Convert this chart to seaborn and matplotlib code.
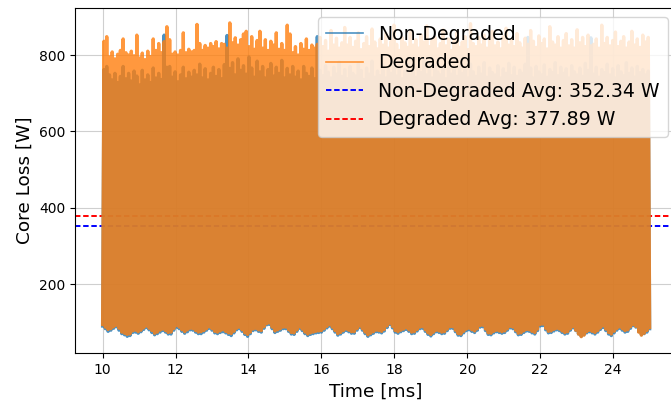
import numpy as np
import matplotlib
matplotlib.use("Agg")
import matplotlib.pyplot as plt
import seaborn as sns

# Time window of the core-loss trace [ms]
t_start, t_end = 10.0, 25.0

# Local minima of the switching ripple (one per switching period + closing point) [W]
nd_troughs = [
    91, 84, 77, 80, 85, 89, 80, 71, 68, 64,
    66, 74, 75, 72, 76, 82, 87, 81, 74, 68,
    71, 75, 79, 75, 70, 70, 80, 88, 84, 77,
    72, 76, 81, 80, 75, 71, 71, 75, 80, 85,
    80, 73, 71, 74, 76, 73, 69, 66, 73, 81,
    84, 77, 69, 64, 71, 79, 81, 77, 75, 85,
    94, 95, 84, 74, 77, 80, 84, 84, 77, 70,
    69, 77, 85, 79, 71, 66, 69, 71, 73, 74,
    75, 80, 86, 91, 84, 75, 67, 70, 75, 79,
    76, 72, 72, 80, 87, 80, 71, 64, 68, 72,
    76, 75, 73, 78, 87, 95, 86, 75, 72, 76,
    79, 82, 77, 71, 72, 78, 84, 85, 77, 69,
    65, 71, 76, 74, 71, 72, 79, 85, 85, 76,
    67, 66, 73, 79, 81, 77, 74, 80, 88, 89,
    79, 69, 68, 73, 76, 74, 72, 74, 80, 86,
    84, 76, 68, 69, 74, 78, 77, 73, 70, 79,
    91, 92, 81, 73, 74, 78, 81, 79, 74, 70,
    72, 80, 86, 79, 70, 64, 68, 73, 76, 73,
    70, 75, 82, 87, 79, 70, 66, 73, 80, 85,
    80, 75, 77, 85, 92, 88, 76, 68, 71, 75,
    84,
]
d_troughs = [
    95, 88, 82, 84, 89, 93, 85, 75, 72, 69,
    70, 78, 80, 76, 80, 86, 91, 85, 79, 72,
    75, 80, 83, 79, 74, 75, 84, 92, 88, 81,
    76, 81, 85, 84, 79, 75, 76, 79, 84, 89,
    84, 77, 75, 78, 81, 77, 73, 71, 77, 85,
    88, 81, 73, 69, 75, 83, 85, 81, 79, 89,
    97, 99, 88, 78, 81, 84, 88, 88, 81, 74,
    73, 81, 89, 83, 75, 70, 73, 75, 77, 78,
    79, 84, 90, 95, 88, 79, 71, 74, 79, 83,
    80, 76, 76, 84, 91, 84, 75, 68, 72, 76,
    80, 79, 77, 82, 91, 98, 90, 79, 76, 80,
    83, 86, 81, 75, 76, 82, 88, 89, 81, 73,
    69, 75, 80, 78, 75, 76, 83, 89, 89, 80,
    71, 70, 77, 83, 85, 81, 78, 84, 92, 93,
    83, 73, 72, 77, 80, 78, 76, 78, 84, 90,
    88, 80, 72, 73, 78, 82, 81, 77, 74, 83,
    95, 96, 85, 77, 78, 82, 85, 83, 78, 74,
    76, 84, 89, 80, 70, 63, 67, 76, 80, 77,
    74, 79, 86, 91, 83, 74, 70, 77, 84, 89,
    84, 79, 81, 89, 95, 90, 75, 67, 72, 79,
    87,
]

# Local maxima of the switching ripple (one per switching period) [W]
nd_peaks = [
    762, 770, 748, 735, 752, 728, 744, 770, 738, 752,
    732, 758, 745, 722, 760, 735, 748, 728, 766, 740,
    752, 736, 852, 768, 770, 742, 756, 730, 748, 768,
    738, 755, 742, 760, 748, 776, 740, 764, 735, 752,
    768, 744, 762, 738, 775, 851, 765, 780, 748, 790,
    760, 772, 750, 795, 766, 742, 784, 756, 770, 740,
    762, 778, 745, 768, 752, 786, 740, 765, 748, 770,
    742, 758, 735, 770, 752, 744, 766, 738, 848, 760,
    746, 772, 755, 740, 768, 750, 782, 744, 762, 738,
    770, 752, 745, 778, 760, 736, 766, 750, 784, 742,
    758, 746, 774, 740, 762, 752, 780, 745, 768, 738,
    760, 776, 748, 764, 742, 770, 754, 786, 748, 762,
    740, 772, 756, 748, 768, 738, 782, 750, 764, 744,
    770, 752, 762, 740, 776, 756, 744, 768, 750, 780,
    742, 766, 754, 748, 772, 740, 764, 752, 778, 746,
    768, 744, 760, 752, 776, 846, 766, 740, 770, 756,
    748, 774, 742, 762, 754, 780, 746, 768, 752, 764,
    740, 772, 756, 748, 766, 744, 778, 760, 845, 750,
    768, 742, 762, 754, 776, 748, 764, 740, 772, 756,
    746, 780, 752, 766, 742, 770, 754, 762, 748, 758,
]
d_peaks = [
    836, 848, 795, 808, 790, 802, 812, 842, 806, 800,
    810, 798, 852, 792, 805, 788, 810, 796, 842, 812,
    830, 806, 835, 874, 840, 802, 808, 800, 812, 858,
    806, 815, 808, 812, 880, 830, 812, 825, 818, 830,
    822, 835, 816, 830, 828, 818, 884, 832, 845, 826,
    840, 855, 862, 822, 848, 815, 838, 862, 818, 840,
    812, 836, 826, 858, 815, 830, 812, 878, 855, 806,
    822, 800, 830, 815, 842, 812, 826, 818, 828, 846,
    822, 838, 810, 864, 826, 844, 818, 832, 872, 826,
    846, 820, 836, 858, 814, 830, 848, 822, 868, 834,
    816, 842, 826, 856, 818, 836, 878, 828, 812, 846,
    832, 820, 860, 826, 840, 818, 852, 834, 876, 822,
    838, 846, 816, 830, 866, 824, 842, 812, 836, 858,
    820, 834, 848, 814, 882, 830, 822, 846, 826, 852,
    818, 838, 862, 824, 834, 816, 848, 870, 826, 840,
    822, 856, 832, 818, 844, 828, 864, 836, 820, 850,
    830, 842, 816, 874, 834, 826, 848, 818, 838, 856,
    824, 840, 818, 866, 832, 846, 822, 852, 824, 828,
    842, 818, 878, 830, 846, 824, 838, 860, 822, 836,
    848, 818, 834, 862, 826, 842, 820, 852, 834, 846,
]

# Reported mean core loss of each case [W]
nd_avg = 352.34
d_avg = 377.89

series_labels = ["Non-Degraded", "Degraded"]


def ripple(troughs, peaks):
    """Interleave minima and maxima into one sampled waveform."""
    values = np.empty(len(troughs) + len(peaks))
    values[0::2] = troughs
    values[1::2] = peaks
    return values


nd_loss = ripple(nd_troughs, nd_peaks)
d_loss = ripple(d_troughs, d_peaks)
time_ms = np.linspace(t_start, t_end, len(nd_loss))

fig = plt.figure(figsize=(6.71, 4.03), dpi=100)
ax = fig.add_axes([0.1122, 0.1233, 0.8967, 0.8568])

h_nd_avg = ax.axhline(nd_avg, color="blue", ls="--", lw=1.4, dashes=(2.8, 1.4),
                      zorder=1.8)
h_d_avg = ax.axhline(d_avg, color="red", ls="--", lw=1.4, dashes=(2.8, 1.4),
                     zorder=1.8)

# The switching ripple is drawn as a dense waveform; a stroke wide enough to
# close the gaps between neighbouring periods gives the solid band.
sns.lineplot(x=time_ms, y=nd_loss, ax=ax, color="#1f77b4", alpha=0.8,
             lw=2.4, legend=False)
sns.lineplot(x=time_ms, y=d_loss, ax=ax, color="#ff7f0e", alpha=0.8,
             lw=2.4, legend=False)

ax.set_xlim(9.25, 25.75)
ax.set_ylim(19.5, 923)
ax.set_xticks([10, 12, 14, 16, 18, 20, 22, 24])
ax.set_yticks([200, 400, 600, 800])
ax.tick_params(labelsize=10)
ax.grid(True, color="#b0b0b0", alpha=0.6, lw=0.8)

ax.set_xlabel("Time [ms]", fontsize=13.3)
ax.set_ylabel("Core Loss [W]", fontsize=13.3)

line_nd, line_d = ax.lines[2], ax.lines[3]
leg = ax.legend([line_nd, line_d, h_nd_avg, h_d_avg],
                [series_labels[0], series_labels[1],
                 f"Non-Degraded Avg: {nd_avg:.2f} W",
                 f"Degraded Avg: {d_avg:.2f} W"],
                loc="upper right", fontsize=13.6)
for h in leg.get_lines()[:2]:
    h.set_linewidth(1.2)

fig.savefig("out.png", dpi=100)
